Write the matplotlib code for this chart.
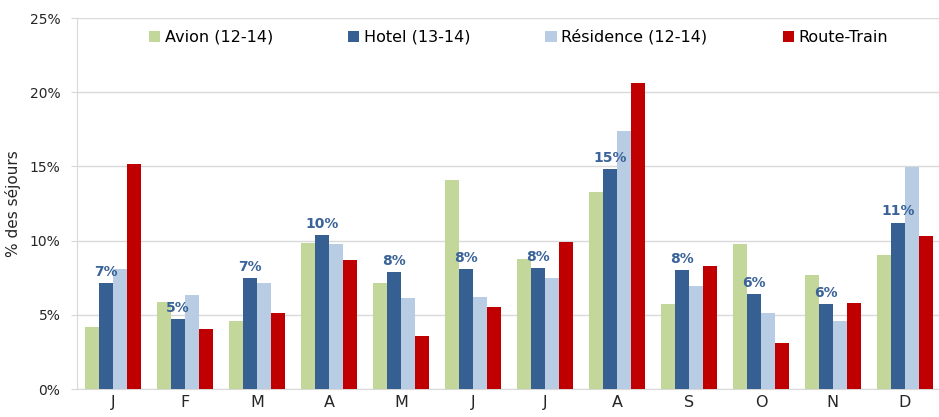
import matplotlib
matplotlib.use("Agg")
import matplotlib.pyplot as plt
import numpy as np

months = ["J", "F", "M", "A", "M", "J", "J", "A", "S", "O", "N", "D"]
series_names = ["Avion (12-14)", "Hotel (13-14)", "Résidence (12-14)", "Route-Train"]
avion = [4.18, 5.86, 4.60, 9.84, 7.14, 14.06, 8.78, 13.27, 5.75, 9.77, 7.68, 9.05]
hotel = [7.12, 4.69, 7.50, 10.38, 7.88, 8.09, 8.15, 14.82, 8.02, 6.40, 5.75, 11.21]
residence = [8.07, 6.31, 7.12, 9.75, 6.15, 6.20, 7.50, 17.36, 6.96, 5.10, 4.60, 14.98]
route_train = [15.18, 4.02, 5.12, 8.67, 3.57, 5.55, 9.88, 20.64, 8.29, 3.08, 5.77, 10.31]
hotel_labels = ["7%", "5%", "7%", "10%", "8%", "8%", "8%", "15%", "8%", "6%", "6%", "11%"]
y_ticks = [0, 5, 10, 15, 20, 25]

colors = ["#C4D79B", "#366092", "#B8CCE4", "#C00000"]
label_color = "#3A6399"

fig = plt.figure(figsize=(9.39, 4.17), dpi=100)
ax = fig.add_axes([0.082, 0.0671, 0.920, 0.8897])

x = np.arange(len(months))
w = 0.194
data = [avion, hotel, residence, route_train]
for i, (vals, name, c) in enumerate(zip(data, series_names, colors)):
    ax.bar(x + (i - 1.5) * w, vals, width=w, color=c, label=name, linewidth=0, zorder=3)

for xi, v, lab in zip(x, hotel, hotel_labels):
    ax.annotate(lab, (xi - 0.5 * w, v), xytext=(0, 3), textcoords="offset points",
                ha="center", va="bottom", fontsize=10, fontweight="bold",
                color=label_color, zorder=4)

ax.set_xlim(-0.5, len(months) - 0.5)
ax.set_ylim(0, 25)
ax.set_yticks(y_ticks)
ax.set_yticklabels([f"{t}%" for t in y_ticks], fontsize=10, color="#262626")
ax.set_xticks(x)
ax.set_xticklabels(months, fontsize=11.5, color="#262626")
ax.tick_params(axis="x", length=0, pad=4)
ax.tick_params(axis="y", length=4, color="#D9D9D9", pad=8)
ax.grid(axis="y", color="#D9D9D9", linewidth=1, zorder=0)
for s in ["top", "right"]:
    ax.spines[s].set_visible(False)
ax.spines["left"].set_color("#D9D9D9")
ax.spines["bottom"].set_color("#D9D9D9")
ax.set_ylabel("% des séjours", fontsize=11, color="#262626", labelpad=6)

ax.legend(loc="upper center", bbox_to_anchor=(0.511, 1.0), ncol=4, frameon=False,
          fontsize=11.5, handlelength=0.7, handleheight=0.7, handletextpad=0.3,
          columnspacing=4.7, borderaxespad=0.3)

fig.savefig("out.png", dpi=100)
